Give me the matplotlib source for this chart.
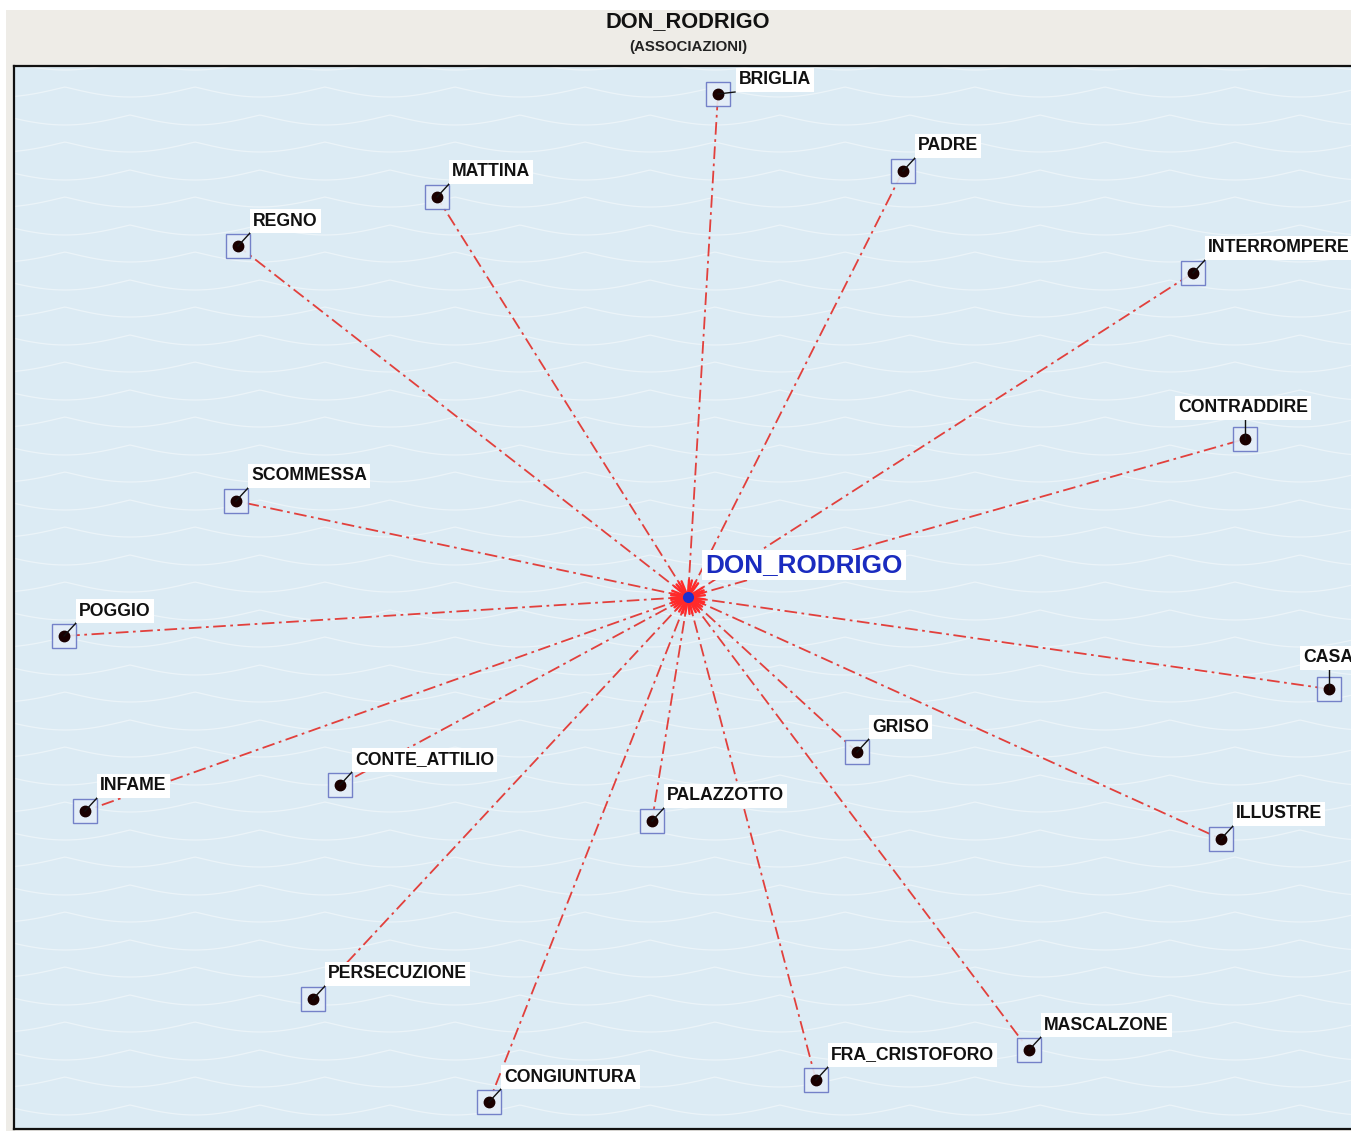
import numpy as np
import matplotlib.pyplot as plt
from matplotlib.patches import Rectangle

# node layout (screen-like coordinates, y grows downward)
center_name = "DON_RODRIGO"
center_x, center_y = 688, 597

names = ["BRIGLIA", "PADRE", "MATTINA", "REGNO", "INTERROMPERE", "CONTRADDIRE",
         "SCOMMESSA", "POGGIO", "CASA", "GRISO", "CONTE_ATTILIO", "INFAME",
         "PALAZZOTTO", "ILLUSTRE", "PERSECUZIONE", "MASCALZONE", "FRA_CRISTOFORO",
         "CONGIUNTURA"]
node_x = [718, 903, 437, 238, 1193, 1245, 236, 64, 1329, 857, 340, 85,
          652, 1221, 313, 1029, 816, 489]
node_y = [94, 171, 197, 246, 273, 439, 501, 636, 689, 752, 785, 811,
          821, 839, 999, 1050, 1080, 1102]
# labels sit up-right of the node, except near the borders
label_dx = [21, 15, 15, 15, 15, -67, 15, 15, -26, 15, 15, 15,
            15, 15, 15, 15, 15, 15]
label_dy = [-14, -25, -25, -25, -25, -31, -25, -25, -31, -25, -25, -25,
            -25, -25, -25, -25, -25, -25]

W, H = 1351, 1131
fig = plt.figure(figsize=(W / 100, H / 100), dpi=100)
fig.patch.set_facecolor("white")

# beige header / frame
fig.add_artist(Rectangle((6 / W, 0), 1, (H - 10) / H, transform=fig.transFigure,
                         facecolor="#eeece7", edgecolor="none", zorder=-10))
fig.text(688 / W, 1 - 22 / H, "DON_RODRIGO", ha="center", va="center",
         fontsize=15.7, fontweight="bold", family=["Liberation Sans", "DejaVu Sans"],
         color="#111111")
fig.text(688 / W, 1 - 47 / H, "(ASSOCIAZIONI)", ha="center", va="center",
         fontsize=10.8, fontweight="bold", family=["Liberation Sans", "DejaVu Sans"],
         color="#222222")

ax = fig.add_axes([14 / W, 2 / H, 1 - 14 / W, (1129 - 66) / H])
ax.set_xlim(14, W)
ax.set_ylim(1129, 66)
ax.set_facecolor("#dcebf4")
ax.set_xticks([])
ax.set_yticks([])
for side in ["left", "top", "bottom"]:
    ax.spines[side].set_linewidth(1.6)
    ax.spines[side].set_color("#111111")
ax.spines["right"].set_visible(False)

# faint wavy paper texture
xs = np.linspace(14, W, 900)
for row in np.arange(60, 1140, 55):
    for shift in (0, 65):
        yy = row + 10 * np.abs(np.sin(np.pi * (xs + shift) / 130)) + (shift / 65) * 27
        ax.plot(xs, yy, color="white", alpha=0.45, lw=0.9, zorder=1)

dash = (0, (7, 2.5, 1.5, 2.5))
font = dict(fontsize=12.7, fontweight="bold", family=["Liberation Sans", "DejaVu Sans"])

for n, x, y, dx, dy in zip(names, node_x, node_y, label_dx, label_dy):
    ax.plot([center_x, x], [center_y, y], color="#e2403c", lw=1.3,
            linestyle=dash, zorder=2)
    # spike of the star around the centre
    ang = np.arctan2(y - center_y, x - center_x)
    for a in (ang, ang + 0.17):
        ax.plot([center_x, center_x + 17 * np.cos(a)],
                [center_y, center_y + 17 * np.sin(a)],
                color="#ff2a2a", lw=1.7, zorder=4, solid_capstyle="round")
    ax.add_patch(Rectangle((x - 12, y - 12), 24, 24, facecolor="#e4eef8",
                           edgecolor="#6876c4", lw=1.0, alpha=0.9, zorder=3))
    ax.plot(x, y, "o", color="#1a0000", ms=7.5, zorder=5)
    if dy > -20:
        ax.plot([x, x + 17], [y, y - 2], color="#111111", lw=1.0, zorder=5)
    elif dx > 0:
        ax.plot([x, x + 12], [y, y - 13], color="#111111", lw=1.0, zorder=5)
    else:
        ax.plot([x, x], [y, y - 21], color="#111111", lw=1.0, zorder=5)
    ax.text(x + dx, y + dy, n, ha="left", va="center", color="#111111", zorder=6,
            bbox=dict(boxstyle="square,pad=0.18", facecolor="white",
                      edgecolor="none"), **font)

# centre node
ax.plot(center_x, center_y, "o", color="#1c2fd0", ms=7, zorder=6)
ax.text(705, 565, center_name, ha="left", va="center", color="#1a2bbf",
        fontsize=18.8, fontweight="bold", family=["Liberation Sans", "DejaVu Sans"],
        zorder=6, bbox=dict(boxstyle="square,pad=0.12", facecolor="white",
                            edgecolor="none"))

fig.savefig("out.png", dpi=100)
